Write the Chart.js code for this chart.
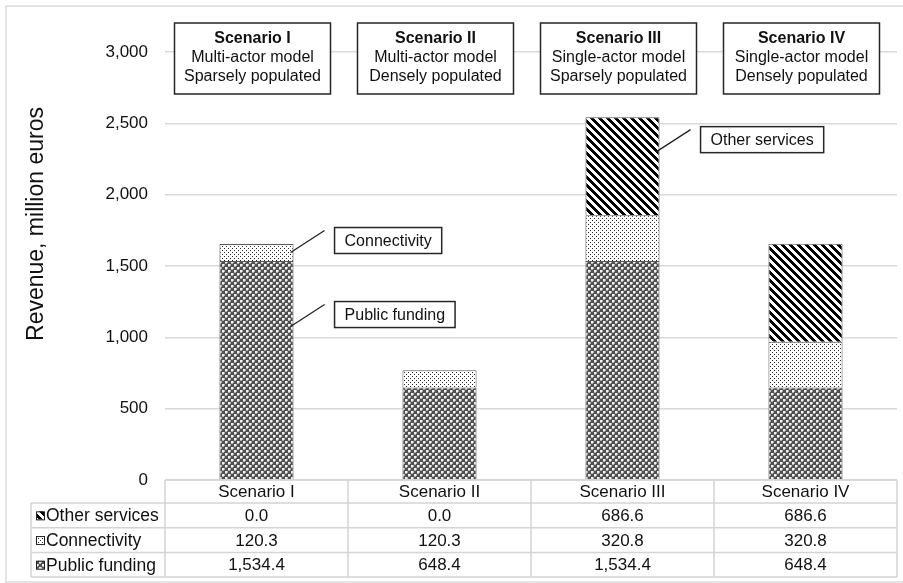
<!DOCTYPE html>
<html>
<head>
<meta charset="utf-8">
<script src="https://cdn.jsdelivr.net/npm/chart.js@4.4.1/dist/chart.umd.min.js"></script>
<style>
  html, body { margin: 0; padding: 0; background: #fff; }
  #wrap { width: 903px; height: 583px; }
</style>
</head>
<body>
<div id="wrap"><canvas id="chart" width="903" height="583"></canvas></div>
<script>
// chart data
const scenarios = ['Scenario I', 'Scenario II', 'Scenario III', 'Scenario IV'];
const scenarioModels = ['Multi-actor model', 'Multi-actor model', 'Single-actor model', 'Single-actor model'];
const scenarioDensity = ['Sparsely populated', 'Densely populated', 'Sparsely populated', 'Densely populated'];
const publicFunding = [1534.4, 648.4, 1534.4, 648.4];
const connectivity = [120.3, 120.3, 320.8, 320.8];
const otherServices = [0.0, 0.0, 686.6, 686.6];
const yTicks = [0, 500, 1000, 1500, 2000, 2500, 3000];

const FONT = "'Liberation Sans', Arial, sans-serif";
const TEXT = '#111';

// fill patterns like the Excel ones
function makePattern(size, paint) {
  const c = document.createElement('canvas');
  c.width = size; c.height = size;
  const g = c.getContext('2d');
  g.fillStyle = '#fff';
  g.fillRect(0, 0, size, size);
  paint(g, size);
  return g.createPattern(c, 'repeat');
}

const crossPattern = makePattern(6, (g) => {
  g.fillStyle = '#505050';
  g.fillRect(0, 0, 6, 6);
  g.fillStyle = '#b0b0b0';
  g.fillRect(2, 0, 1, 2);
  g.fillRect(0, 2, 2, 1);
  g.fillRect(5, 3, 1, 2);
  g.fillRect(3, 5, 2, 1);
  g.fillStyle = '#f0f0f0';
  g.fillRect(0, 0, 2, 2);
  g.fillRect(3, 3, 2, 2);
});

const dotPattern = makePattern(4, (g) => {
  g.fillStyle = '#2a2a2a';
  g.fillRect(0, 0, 1, 1);
  g.fillRect(2, 2, 1, 1);
});

const stripePattern = makePattern(8, (g, s) => {
  g.fillStyle = '#000';
  for (let yy = 0; yy < s; yy++) {
    for (let xx = 0; xx < s; xx++) {
      if (((xx - yy) % s + s) % s < 4) g.fillRect(xx, yy, 1, 1);
    }
  }
});

// rows of the data table, top to bottom
const tableRows = [
  { label: 'Other services', values: otherServices, fill: stripePattern },
  { label: 'Connectivity', values: connectivity, fill: dotPattern },
  { label: 'Public funding', values: publicFunding, fill: crossPattern }
];

// callouts: dataset index, bar index, where along the segment the line starts
const callouts = [
  { text: 'Connectivity', ds: 1, bar: 0, frac: 0.5 },
  { text: 'Public funding', ds: 0, bar: 0, frac: 0.7 },
  { text: 'Other services', ds: 2, bar: 2, frac: 0.65 }
];

function fmt(v) {
  return v.toLocaleString('en-US', { minimumFractionDigits: 1, maximumFractionDigits: 1 });
}

const overlay = {
  id: 'overlay',
  afterDraw(chart) {
    const { ctx, chartArea, scales } = chart;
    const x = scales.x;
    const colW = (chartArea.right - chartArea.left) / scenarios.length;

    ctx.save();

    // outer frame
    ctx.strokeStyle = '#dcdcdc';
    ctx.lineWidth = 1.5;
    ctx.strokeRect(6, 6, 920, 576);

    // y title
    ctx.save();
    ctx.translate(37, 224);
    ctx.rotate(-Math.PI / 2);
    ctx.fillStyle = TEXT;
    ctx.font = '23px ' + FONT;
    ctx.textAlign = 'center';
    ctx.textBaseline = 'middle';
    ctx.fillText('Revenue, million euros', 0, 0);
    ctx.restore();

    // data table
    const top = chartArea.bottom;
    const headH = 23, rowH = 24.7, labelLeft = 31;
    const bottom = top + headH + rowH * tableRows.length;
    ctx.strokeStyle = '#d4d4d4';
    ctx.lineWidth = 1.5;
    ctx.beginPath();
    ctx.moveTo(chartArea.left, top); ctx.lineTo(chartArea.right, top);
    for (let r = 0; r <= tableRows.length; r++) {
      const yy = top + headH + r * rowH;
      ctx.moveTo(labelLeft, yy); ctx.lineTo(chartArea.right, yy);
    }
    for (let c = 0; c <= scenarios.length; c++) {
      const xx = chartArea.left + c * colW;
      ctx.moveTo(xx, top); ctx.lineTo(xx, bottom);
    }
    ctx.moveTo(labelLeft, top + headH); ctx.lineTo(labelLeft, bottom);
    ctx.stroke();

    ctx.fillStyle = TEXT;
    ctx.font = '17px ' + FONT;
    ctx.textAlign = 'center';
    ctx.textBaseline = 'middle';
    scenarios.forEach((s, i) => {
      ctx.fillText(s, x.getPixelForValue(i), top + headH / 2 + 1);
    });
    tableRows.forEach((row, r) => {
      const cy = top + headH + r * rowH + rowH / 2 + 1;
      row.values.forEach((v, i) => {
        ctx.fillStyle = TEXT;
        ctx.textAlign = 'center';
        ctx.fillText(fmt(v), x.getPixelForValue(i), cy);
      });
      // legend key
      ctx.fillStyle = row.fill;
      ctx.fillRect(36, cy - 5, 8, 8);
      ctx.strokeStyle = '#222';
      ctx.lineWidth = 1;
      ctx.strokeRect(36.5, cy - 4.5, 8, 8);
      ctx.fillStyle = TEXT;
      ctx.textAlign = 'left';
      ctx.font = '17.5px ' + FONT;
      ctx.fillText(row.label, 46, cy);
      ctx.font = '17px ' + FONT;
    });

    // scenario boxes at the top
    const boxW = 156, boxTop = 23, boxH = 71;
    scenarios.forEach((s, i) => {
      const cx = x.getPixelForValue(i) - 4;
      ctx.fillStyle = '#fff';
      ctx.fillRect(cx - boxW / 2, boxTop, boxW, boxH);
      ctx.strokeStyle = '#262626';
      ctx.lineWidth = 1.5;
      ctx.strokeRect(cx - boxW / 2, boxTop, boxW, boxH);
      ctx.fillStyle = TEXT;
      ctx.textAlign = 'center';
      ctx.textBaseline = 'middle';
      ctx.font = 'bold 16px ' + FONT;
      ctx.fillText(s, cx, boxTop + 16);
      ctx.font = '16px ' + FONT;
      ctx.fillText(scenarioModels[i], cx, boxTop + 35);
      ctx.fillText(scenarioDensity[i], cx, boxTop + 54);
    });

    // callouts with leader lines
    ctx.font = '16px ' + FONT;
    callouts.forEach(c => {
      const el = chart.getDatasetMeta(c.ds).data[c.bar];
      const x0 = el.x + el.width / 2 - 3;
      const y0 = el.base + (el.y - el.base) * c.frac;
      const x1 = x0 + 34, y1 = y0 - 22;
      ctx.strokeStyle = '#222';
      ctx.lineWidth = 1.3;
      ctx.beginPath();
      ctx.moveTo(x0, y0); ctx.lineTo(x1, y1);
      ctx.stroke();
      const tw = ctx.measureText(c.text).width;
      const bx = x1 + 10, by = y1 - 3, bw = tw + 20, bh = 26;
      ctx.fillStyle = '#fff';
      ctx.fillRect(bx, by, bw, bh);
      ctx.strokeStyle = '#262626';
      ctx.lineWidth = 1.5;
      ctx.strokeRect(bx, by, bw, bh);
      ctx.fillStyle = TEXT;
      ctx.textAlign = 'center';
      ctx.textBaseline = 'middle';
      ctx.fillText(c.text, bx + bw / 2, by + bh / 2 + 1);
    });

    ctx.restore();
  }
};

const borderFor = (c) => (c.raw === 0 ? 0 : 1);

new Chart(document.getElementById('chart'), {
  type: 'bar',
  data: {
    labels: scenarios,
    datasets: [
      { label: 'Public funding', data: publicFunding, backgroundColor: crossPattern, borderColor: '#555', borderWidth: borderFor },
      { label: 'Connectivity', data: connectivity, backgroundColor: dotPattern, borderColor: '#555', borderWidth: borderFor },
      { label: 'Other services', data: otherServices, backgroundColor: stripePattern, borderColor: '#555', borderWidth: borderFor }
    ]
  },
  options: {
    responsive: false,
    animation: false,
    devicePixelRatio: 1,
    categoryPercentage: 1,
    barPercentage: 0.405,
    layout: { padding: { left: 0, right: 6, top: 52, bottom: 103 } },
    plugins: { legend: { display: false }, tooltip: { enabled: false } },
    scales: {
      x: { stacked: true, display: false },
      y: {
        stacked: true,
        min: 0,
        max: 3000,
        afterBuildTicks: s => { s.ticks = yTicks.map(v => ({ value: v })); },
        afterFit: s => { s.width = 165; },
        ticks: { padding: 17, color: TEXT, font: { family: FONT, size: 17 } },
        grid: { color: '#d9d9d9', lineWidth: 1.5, drawTicks: false },
        border: { display: false }
      }
    }
  },
  plugins: [overlay]
});
</script>
</body>
</html>
